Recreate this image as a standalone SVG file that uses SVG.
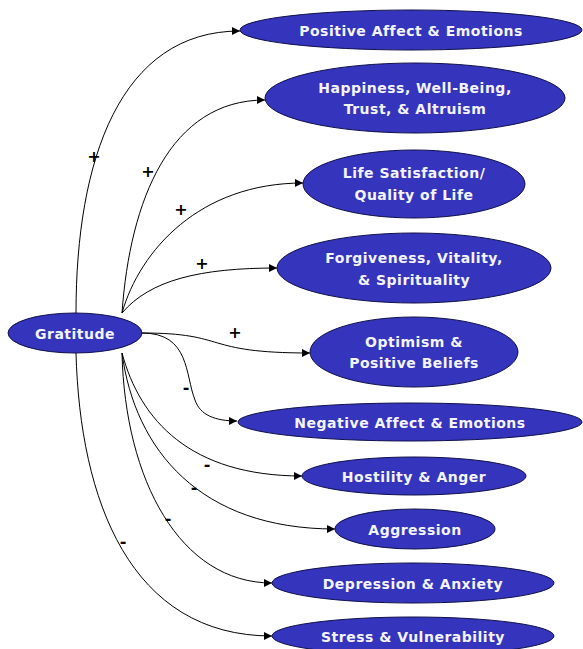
<svg xmlns="http://www.w3.org/2000/svg" width="583" height="649" viewBox="0 0 583 649">
<style>
.n ellipse{fill:#3434bc;stroke:#10104a;stroke-width:1}
.n text{fill:#f4f4ff;font-family:"DejaVu Sans","Liberation Sans",sans-serif;font-weight:bold;font-size:14px;letter-spacing:0.5px;text-anchor:middle;dominant-baseline:central}
.e path{fill:none;stroke:#000;stroke-width:1;marker-end:url(#ah)}
.lbl{font-family:"DejaVu Sans","Liberation Sans",sans-serif;font-weight:bold;font-size:16px;fill:#000;text-anchor:middle;dominant-baseline:central}
</style>
<defs>
<marker id="ah" viewBox="0 0 10 10" refX="10" refY="5" markerWidth="8" markerHeight="8" markerUnits="userSpaceOnUse" orient="auto">
<path d="M0,0 L10,5 L0,10 z" fill="#000"/>
</marker>
</defs>
<rect width="583" height="649" fill="#fff"/>
<g id="connectors" class="e">
<path d="M76,313 C76,160 120,31 240,31"/>
<path d="M122,313 C130,200 170,100 265,100"/>
<path d="M122,313 C140,250 200,183 303,183"/>
<path d="M122,313 C150,280 200,268 277,268"/>
<path d="M142,333 C230,333 200,353 310,353"/>
<path d="M142,333 C190,333 185,375 195,400 C200,415 215,421 237,421"/>
<path d="M122,353 C140,420 190,476 302,476"/>
<path d="M122,353 C135,450 200,529 335,529"/>
<path d="M122,353 C125,480 180,583 272,583"/>
<path d="M76,353 C80,500 130,636 272,636"/>
</g>
<g id="labels">
<text class="lbl" x="94" y="156">+</text>
<text class="lbl" x="148" y="171">+</text>
<text class="lbl" x="181" y="209">+</text>
<text class="lbl" x="202" y="263">+</text>
<text class="lbl" x="235" y="332">+</text>
<text class="lbl" x="186" y="387">-</text>
<text class="lbl" x="207" y="464">-</text>
<text class="lbl" x="194" y="487">-</text>
<text class="lbl" x="168" y="518">-</text>
<text class="lbl" x="123" y="541">-</text>
</g>
<g id="gratitude" class="n"><ellipse cx="75" cy="333" rx="67" ry="20"/><text x="75" y="334">Gratitude</text></g>
<g id="positive-affect" class="n"><ellipse cx="411" cy="30" rx="171" ry="20"/><text x="411" y="31">Positive Affect &amp; Emotions</text></g>
<g id="happiness" class="n"><ellipse cx="415" cy="98" rx="150" ry="35"/><text x="415" y="88">Happiness, Well-Being,</text><text x="415" y="109">Trust, &amp; Altruism</text></g>
<g id="life-satisfaction" class="n"><ellipse cx="414" cy="184" rx="111" ry="34"/><text x="414" y="173">Life Satisfaction/</text><text x="414" y="195">Quality of Life</text></g>
<g id="forgiveness" class="n"><ellipse cx="414" cy="268" rx="137" ry="35"/><text x="414" y="258">Forgiveness, Vitality,</text><text x="414" y="280">&amp; Spirituality</text></g>
<g id="optimism" class="n"><ellipse cx="414" cy="352" rx="104" ry="35"/><text x="414" y="342">Optimism &amp;</text><text x="414" y="363">Positive Beliefs</text></g>
<g id="negative-affect" class="n"><ellipse cx="410" cy="422" rx="172" ry="19"/><text x="410" y="423">Negative Affect &amp; Emotions</text></g>
<g id="hostility" class="n"><ellipse cx="414" cy="476" rx="112" ry="19"/><text x="414" y="477">Hostility &amp; Anger</text></g>
<g id="aggression" class="n"><ellipse cx="415" cy="529" rx="80" ry="20"/><text x="415" y="530">Aggression</text></g>
<g id="depression" class="n"><ellipse cx="413" cy="583" rx="141" ry="20"/><text x="413" y="584">Depression &amp; Anxiety</text></g>
<g id="stress" class="n"><ellipse cx="413" cy="636" rx="141" ry="19"/><text x="413" y="637">Stress &amp; Vulnerability</text></g>
</svg>
